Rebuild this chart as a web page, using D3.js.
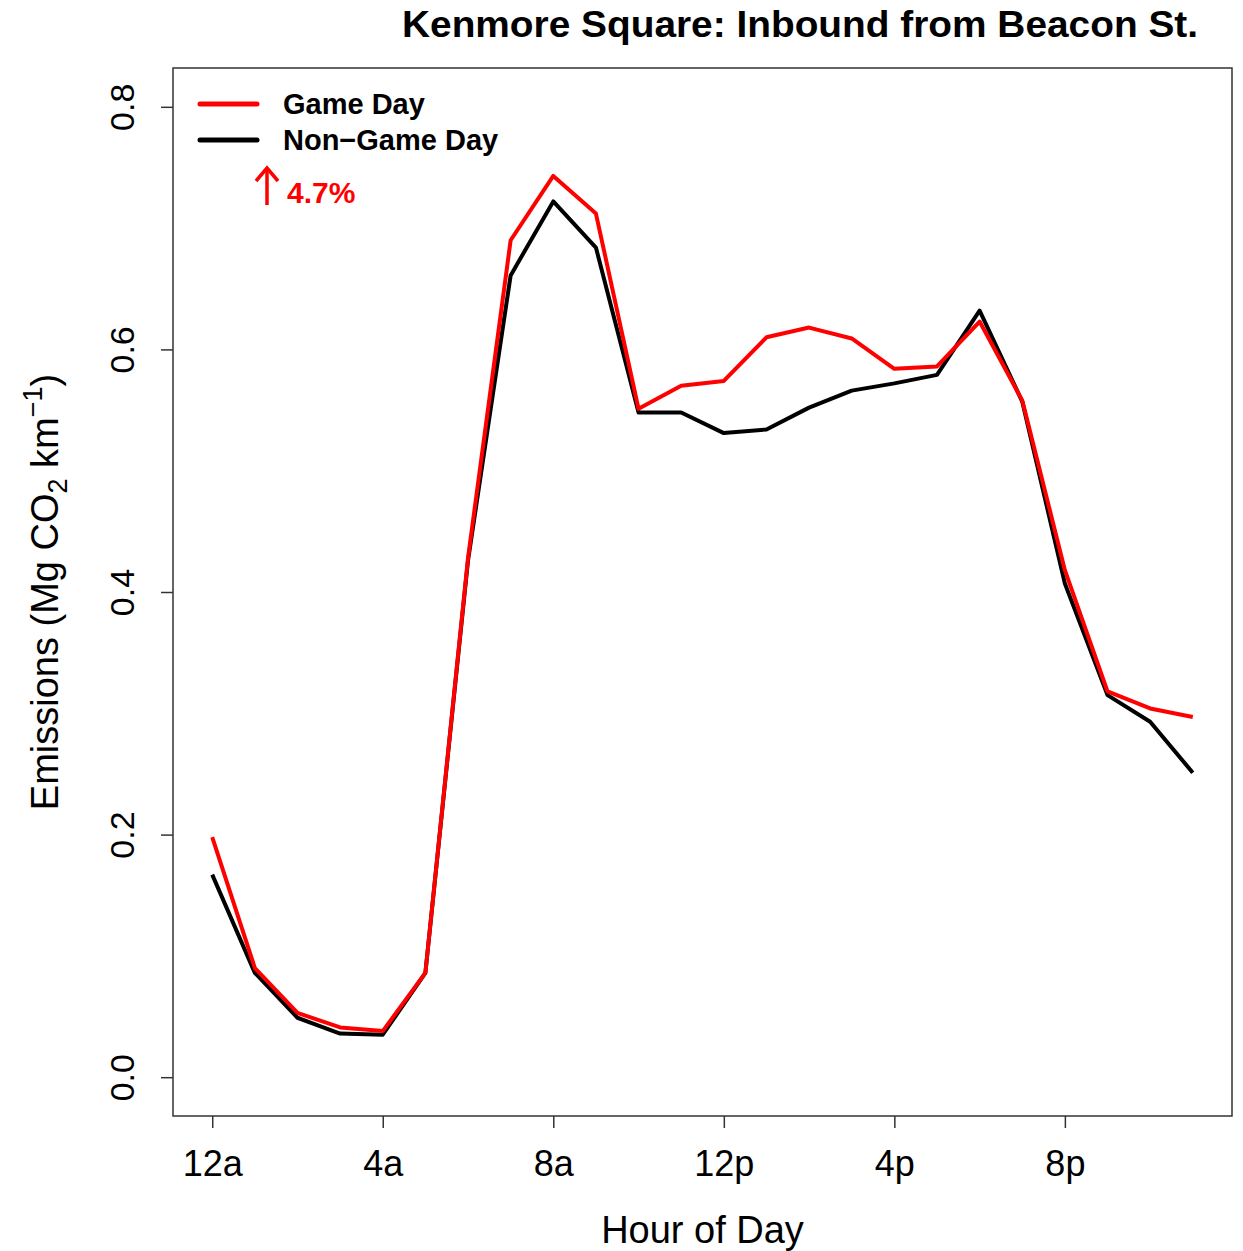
<!DOCTYPE html>
<html>
<head>
<meta charset="utf-8">
<script src="https://cdn.jsdelivr.net/npm/d3@7"></script>
<style>
  body { margin: 0; background: #fff; }
  svg text { font-family: "Liberation Sans", Arial, sans-serif; }
</style>
</head>
<body>
<div id="chart"></div>
<script>
// hours of day (0 = 12a)
const hours = d3.range(0, 24);
const gameDay = [0.198, 0.090, 0.053, 0.041, 0.038, 0.086, 0.428, 0.690, 0.743, 0.712,
    0.551, 0.570, 0.574, 0.610, 0.618, 0.609, 0.584, 0.586, 0.623, 0.558,
    0.418, 0.318, 0.304, 0.297];
const nonGameDay = [0.167, 0.086, 0.049, 0.036, 0.035, 0.086, 0.426, 0.661, 0.722, 0.684,
    0.548, 0.548, 0.531, 0.534, 0.552, 0.566, 0.572, 0.579, 0.632, 0.557,
    0.407, 0.315, 0.293, 0.251];
const xTicks = [0, 4, 8, 12, 16, 20];
const xTickLabels = ["12a", "4a", "8a", "12p", "4p", "8p"];
const yTicks = [0, 0.2, 0.4, 0.6, 0.8];

const W = 1243, H = 1251;
let margin = { top: 68, right: 11, bottom: 135, left: 173 };
let width = W - margin.left - margin.right,
    height = H - margin.top - margin.bottom;

let svg = d3.select("#chart").append("svg")
    .attr("width", W)
    .attr("height", H);

let g = svg.append("g")
    .attr("transform", "translate(" + margin.left + "," + margin.top + ")");

// R style 4% padding
let x = d3.scaleLinear()
    .domain([0 - 23 * 0.04, 23 + 23 * 0.04])
    .range([0, width]);
let y = d3.scaleLinear()
    .domain([-0.032, 0.832])
    .range([height, 0]);

// box
g.append("rect")
    .attr("width", width)
    .attr("height", height)
    .attr("fill", "none")
    .attr("stroke", "#333")
    .attr("stroke-width", 1.5);

// x axis
let xAxis = g.append("g")
    .attr("transform", "translate(0," + height + ")")
    .call(d3.axisBottom(x)
        .tickValues(xTicks)
        .tickFormat((d, i) => xTickLabels[i])
        .tickSize(12)
        .tickPadding(22));
xAxis.select(".domain").remove();
xAxis.selectAll("line").attr("stroke", "#333").attr("stroke-width", 1.5);
xAxis.selectAll("text")
    .attr("font-size", 36)
    .attr("fill", "#000");

// y axis
let yAxis = g.append("g")
    .call(d3.axisLeft(y)
        .tickValues(yTicks)
        .tickFormat(d3.format(".1f"))
        .tickSize(12));
yAxis.select(".domain").remove();
yAxis.selectAll("line").attr("stroke", "#333").attr("stroke-width", 1.5);
yAxis.selectAll("text")
    .attr("font-size", 34)
    .attr("fill", "#000")
    .attr("x", null)
    .attr("dy", null)
    .attr("text-anchor", "middle")
    .attr("transform", "translate(-39,0) rotate(-90)")
    .attr("y", 0);

// lines
let line = d3.line()
    .x((d, i) => x(hours[i]))
    .y(d => y(d));

g.append("path")
    .datum(nonGameDay)
    .attr("d", line)
    .attr("fill", "none")
    .attr("stroke", "#000")
    .attr("stroke-width", 4)
    .attr("stroke-linejoin", "round");

g.append("path")
    .datum(gameDay)
    .attr("d", line)
    .attr("fill", "none")
    .attr("stroke", "#ff0000")
    .attr("stroke-width", 4)
    .attr("stroke-linejoin", "round");

// legend
let legend = [
    { name: "Game Day", color: "#ff0000" },
    { name: "Non\u2212Game Day", color: "#000" }
];
legend.forEach(function (l, i) {
    let ly = 104 + i * 36;
    svg.append("line")
        .attr("x1", 200).attr("x2", 257)
        .attr("y1", ly).attr("y2", ly)
        .attr("stroke", l.color)
        .attr("stroke-width", 5)
        .attr("stroke-linecap", "round");
    svg.append("text")
        .attr("x", 283)
        .attr("y", ly + 10)
        .attr("font-size", 29)
        .attr("font-weight", "bold")
        .attr("fill", "#000")
        .text(l.name);
});

// percent change annotation
svg.append("line")
    .attr("x1", 267).attr("x2", 267)
    .attr("y1", 205).attr("y2", 170)
    .attr("stroke", "#ff0000")
    .attr("stroke-width", 3.5);
svg.append("path")
    .attr("d", "M256,181 L267,168 L278,181")
    .attr("fill", "none")
    .attr("stroke", "#ff0000")
    .attr("stroke-width", 3.5);
svg.append("text")
    .attr("x", 287)
    .attr("y", 203)
    .attr("font-size", 30)
    .attr("font-weight", "bold")
    .attr("fill", "#ff0000")
    .text("4.7%");

// title
svg.append("text")
    .attr("x", 1198)
    .attr("y", 37)
    .attr("text-anchor", "end")
    .attr("font-size", 36)
    .attr("font-weight", "bold")
    .attr("fill", "#000")
    .attr("textLength", 796)
    .attr("lengthAdjust", "spacingAndGlyphs")
    .text("Kenmore Square: Inbound from Beacon St.");

// x label
svg.append("text")
    .attr("x", margin.left + width / 2)
    .attr("y", 1243)
    .attr("text-anchor", "middle")
    .attr("font-size", 38)
    .attr("fill", "#000")
    .text("Hour of Day");

// y label
let yl = svg.append("text")
    .attr("transform", "translate(58," + (margin.top + y(0.4)) + ") rotate(-90)")
    .attr("text-anchor", "middle")
    .attr("font-size", 38)
    .attr("fill", "#000");
yl.append("tspan").text("Emissions (Mg CO");
yl.append("tspan").attr("font-size", 27).attr("dy", 9).text("2");
yl.append("tspan").attr("dy", -9).text(" km");
yl.append("tspan").attr("font-size", 27).attr("dy", -16).text("\u22121");
yl.append("tspan").attr("dy", 16).text(")");
</script>
</body>
</html>
